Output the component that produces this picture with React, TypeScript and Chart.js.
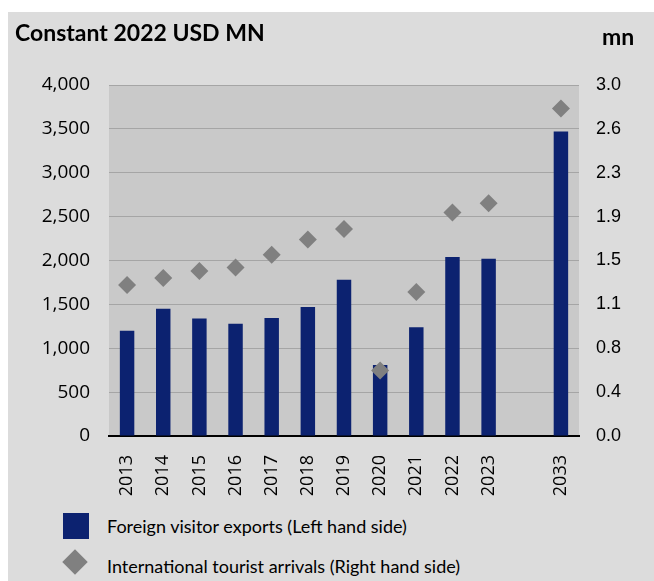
import React, { useEffect, useRef } from "react";
import { Chart, registerables } from "chart.js";

Chart.register(...registerables);

const categories = ["2013", "2014", "2015", "2016", "2017", "2018", "2019", "2020", "2021", "2022", "2023", "", "2033"];
const exportsValues = [1200, 1450, 1340, 1280, 1345, 1470, 1780, 810, 1240, 2040, 2020, null, 3470];
const arrivalsValues = [1.29, 1.35, 1.41, 1.44, 1.55, 1.68, 1.77, 0.56, 1.23, 1.91, 1.99, null, 2.8];
const leftTicks = [0, 500, 1000, 1500, 2000, 2500, 3000, 3500, 4000];
const rightTicks = [0, 0.375, 0.75, 1.125, 1.5, 1.875, 2.25, 2.625, 3.0];

const NAVY = "#0c2270";
const DIAMOND = "#808080";
const PANEL = "#dcdcdc";
const PLOT = "#c9c9c9";
const ARIAL_FONT = "'Liberation Sans', Arial, sans-serif";
const CAL_FONT = "'Open Sans', Lato, sans-serif";
const TEXT_FONT = "Lato, 'Open Sans', sans-serif";

const plotBg = {
  id: "plotBg",
  beforeDraw(chart: any) {
    const { ctx, chartArea } = chart;
    ctx.save();
    ctx.fillStyle = PLOT;
    ctx.fillRect(chartArea.left, chartArea.top, chartArea.right - chartArea.left, chartArea.bottom - chartArea.top);
    ctx.restore();
  },
};

export default function App() {
  const ref = useRef<HTMLCanvasElement>(null);
  useEffect(() => {
    document.body.style.margin = "0";
    const chart = new Chart(ref.current!, {
      data: {
        labels: categories,
        datasets: [
          {
            type: "line",
            label: "International tourist arrivals (Right hand side)",
            data: arrivalsValues,
            yAxisID: "y1",
            showLine: false,
            pointStyle: "rectRot",
            pointRadius: 9,
            pointBackgroundColor: DIAMOND,
            pointBorderColor: DIAMOND,
            pointBorderWidth: 0,
            order: 0,
          } as any,
          {
            type: "bar",
            label: "Foreign visitor exports (Left hand side)",
            data: exportsValues,
            yAxisID: "y",
            backgroundColor: NAVY,
            barPercentage: 0.4,
            categoryPercentage: 1,
            order: 1,
          } as any,
        ],
      },
      options: {
        responsive: false,
        animation: false,
        devicePixelRatio: 1,
        layout: { padding: { top: 73, left: 0, right: 0, bottom: 0 } },
        plugins: { legend: { display: false }, tooltip: { enabled: false } },
        scales: {
          x: {
            grid: { display: false, drawTicks: false },
            border: { display: true, color: "#000000", width: 2 },
            ticks: {
              minRotation: 90,
              maxRotation: 90,
              autoSkip: false,
              padding: 19,
              color: "#000000",
              font: { family: CAL_FONT, size: 18 },
            },
            afterFit(scale: any) {
              scale.height = 64;
            },
          },
          y: {
            position: "left",
            min: 0,
            max: 4000,
            grid: { color: "#a5a5a5", lineWidth: 1, drawTicks: false },
            border: { display: false },
            afterBuildTicks(scale: any) {
              scale.ticks = leftTicks.map((v) => ({ value: v }));
            },
            ticks: {
              padding: 19,
              color: "#000000",
              font: { family: CAL_FONT, size: 19 },
              callback: (v: any) => Number(v).toLocaleString("en-US"),
            },
            afterFit(scale: any) {
              scale.width = 101;
            },
          },
          y1: {
            position: "right",
            min: 0,
            max: 3,
            grid: { display: false, drawTicks: false },
            border: { display: false },
            afterBuildTicks(scale: any) {
              scale.ticks = rightTicks.map((v) => ({ value: v }));
            },
            ticks: {
              padding: 17,
              color: "#000000",
              font: { family: ARIAL_FONT, size: 18 },
              callback: (v: any) => Number(v).toFixed(1),
            },
            afterFit(scale: any) {
              scale.width = 75;
            },
          },
        },
      },
      plugins: [plotBg],
    });
    return () => chart.destroy();
  }, []);

  return (
    <div style={{ position: "relative", width: 654, height: 581, background: "#ffffff" }}>
      <div style={{ position: "absolute", left: 8, top: 12, width: 646, height: 569, background: PANEL }}>
        <canvas ref={ref} width={646} height={488} style={{ position: "absolute", left: 0, top: 0 }} />
        <div
          style={{
            position: "absolute",
            left: 7,
            top: 9,
            fontFamily: TEXT_FONT,
            fontWeight: 700,
            fontSize: 23,
            lineHeight: "23px",
            color: "#000",
            whiteSpace: "nowrap",
          }}
        >
          Constant 2022 USD MN
        </div>
        <div
          style={{
            position: "absolute",
            left: 594,
            top: 13,
            fontFamily: TEXT_FONT,
            fontWeight: 700,
            fontSize: 23,
            lineHeight: "23px",
            color: "#000",
          }}
        >
          mn
        </div>
        <div style={{ position: "absolute", left: 55, top: 501, width: 26, height: 26, background: NAVY }} />
        <div
          style={{
            position: "absolute",
            left: 99,
            top: 503,
            fontFamily: TEXT_FONT,
            fontSize: 18,
            lineHeight: "22px",
            color: "#000",
            whiteSpace: "nowrap",
          }}
        >
          Foreign visitor exports (Left hand side)
        </div>
        <div
          style={{
            position: "absolute",
            left: 58,
            top: 541,
            width: 18,
            height: 18,
            background: DIAMOND,
            transform: "rotate(45deg)",
          }}
        />
        <div
          style={{
            position: "absolute",
            left: 99,
            top: 543,
            fontFamily: TEXT_FONT,
            fontSize: 18,
            lineHeight: "22px",
            color: "#000",
            whiteSpace: "nowrap",
          }}
        >
          International tourist arrivals (Right hand side)
        </div>
      </div>
    </div>
  );
}
